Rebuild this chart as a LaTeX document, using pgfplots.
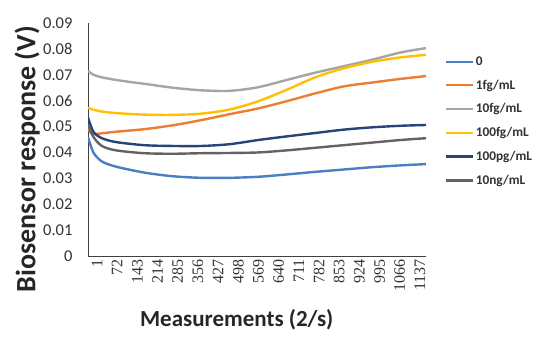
\documentclass[border=0pt]{standalone}
\usepackage{pgfplots}
\pgfplotsset{compat=1.18}
\usepackage{fontspec}
\setmainfont{Carlito}
\newfontfamily\serifnum{Liberation Serif}
\definecolor{c0}{HTML}{4A7FC4}
\definecolor{c1}{HTML}{ED7D31}
\definecolor{c2}{HTML}{A5A5A5}
\definecolor{c3}{HTML}{FFC000}
\definecolor{c4}{HTML}{264478}
\definecolor{c5}{HTML}{636363}
\begin{document}
\begin{tikzpicture}
\useasboundingbox (0,0) rectangle (533bp,338bp);
\begin{axis}[
  at={(88bp,82bp)}, anchor=south west,
  scale only axis, width=338bp, height=233bp,
  xmin=1, xmax=1190, ymin=0, ymax=0.09,
  axis x line=bottom, axis y line=left,
  axis line style={-, line width=0.9bp, black!75},
  major tick length=0pt,
  xtick={1,72,143,214,285,356,427,498,569,640,711,782,853,924,995,1066,1137},
  ytick={0,0.01,0.02,0.03,0.04,0.05,0.06,0.07,0.08,0.09},
  yticklabel style={/pgf/number format/fixed, /pgf/number format/precision=2, font=\fontsize{16.5bp}{18bp}\selectfont, text=black!80, xshift=-12bp},
  xticklabel style={rotate=90, anchor=east, font=\serifnum\fontsize{16bp}{18bp}\selectfont, /pgf/number format/1000 sep={}, text=black!80, yshift=-9bp},
  /pgf/number format/assume math mode=true,
  scaled y ticks=false,
  xlabel={Measurements (2/s)},
  ylabel={Biosensor response (V)},
  xlabel style={at={(axis description cs:0.44,-0.275)}, anchor=center, font=\bfseries\fontsize{23bp}{26bp}\selectfont, text=black!85},
  ylabel style={at={(axis description cs:-0.18,0.416)}, anchor=center, rotate=0, font=\bfseries\fontsize{28bp}{30bp}\selectfont, text=black!85},
  legend style={at={(axis description cs:1.053,0.874)}, anchor=north west, draw=none, fill=none, font=\bfseries\fontsize{13.3bp}{15bp}\selectfont, row sep=9bp, text=black!80, inner xsep=1bp, nodes={inner xsep=1.5bp}},
  legend cell align=left,
  legend image code/.code={\draw[#1, line width=2.2bp] (0bp,0bp) -- (27bp,0bp);},
  every axis plot/.append style={line width=2.4bp, smooth},
]
\addplot[c0] coordinates {(1,0.0460) (20,0.0400) (50,0.0365) (100,0.0345) (200,0.0322) (300,0.0308) (400,0.0302) (500,0.0302) (600,0.0306) (700,0.0315) (800,0.0325) (900,0.0334) (1000,0.0343) (1100,0.0350) (1190,0.0355)};
\addlegendentry{0}
\addplot[c1] coordinates {(1,0.0497) (15,0.0472) (50,0.0474) (100,0.0480) (200,0.0490) (300,0.0505) (400,0.0525) (500,0.0548) (600,0.0570) (700,0.0598) (800,0.0628) (900,0.0655) (1000,0.0670) (1100,0.0684) (1190,0.0695)};
\addlegendentry{1fg/mL}
\addplot[c2] coordinates {(1,0.0715) (20,0.0700) (50,0.0690) (100,0.0680) (150,0.0672) (200,0.0665) (300,0.0650) (400,0.0640) (500,0.0638) (600,0.0652) (700,0.0680) (800,0.0708) (900,0.0733) (1000,0.0758) (1100,0.0786) (1190,0.0803)};
\addlegendentry{10fg/mL}
\addplot[c3] coordinates {(1,0.0572) (20,0.0565) (50,0.0558) (100,0.0552) (200,0.0546) (300,0.0545) (400,0.0550) (500,0.0566) (600,0.0598) (700,0.0642) (800,0.0690) (900,0.0725) (1000,0.0750) (1100,0.0767) (1190,0.0777)};
\addlegendentry{100fg/mL}
\addplot[c4] coordinates {(1,0.0535) (20,0.0480) (50,0.0455) (100,0.0440) (200,0.0428) (300,0.0425) (400,0.0425) (500,0.0432) (600,0.0448) (700,0.0462) (800,0.0475) (900,0.0488) (1000,0.0497) (1100,0.0503) (1190,0.0506)};
\addlegendentry{100pg/mL}
\addplot[c5] coordinates {(1,0.0508) (20,0.0460) (50,0.0425) (100,0.0408) (200,0.0397) (300,0.0395) (400,0.0397) (500,0.0398) (600,0.0400) (700,0.0408) (800,0.0418) (900,0.0428) (1000,0.0438) (1100,0.0448) (1190,0.0455)};
\addlegendentry{10ng/mL}
\end{axis}
\end{tikzpicture}
\end{document}
